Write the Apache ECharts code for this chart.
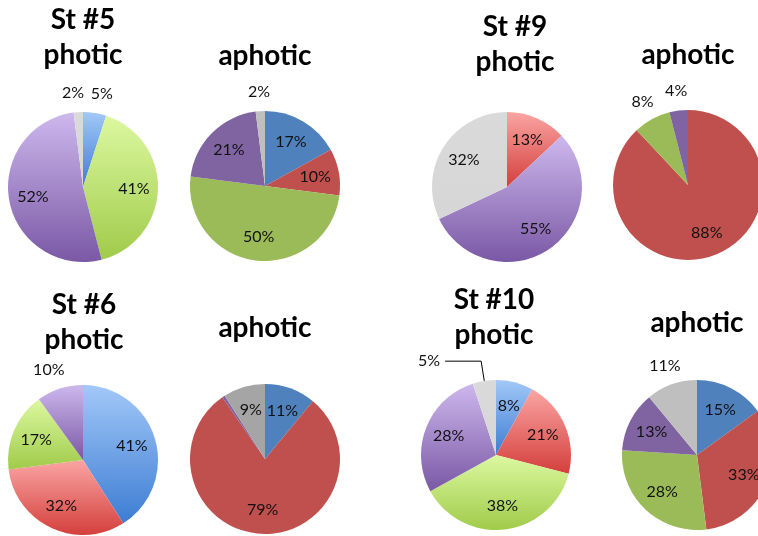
<!DOCTYPE html>
<html>
<head>
<meta charset="utf-8">
<script src="https://cdn.jsdelivr.net/npm/echarts@6/dist/echarts.min.js"></script>
<style>
  html, body { margin: 0; padding: 0; background: #fff; }
  #chart { width: 758px; height: 536px; }
</style>
</head>
<body>
<div id="chart"></div>
<script>
// Community groups, in clockwise order from 12 o'clock
const categories = ['Group 1', 'Group 2', 'Group 3', 'Group 4', 'Group 5'];

// Relative abundance (%) per station and layer
const st5Photic   = [5, 0, 41, 52, 2];
const st5Aphotic  = [17, 10, 50, 21, 2];
const st9Photic   = [0, 13, 0, 55, 32];
const st9Aphotic  = [0, 88, 8, 4, 0];
const st6Photic   = [41, 32, 17, 10, 0];
const st6Aphotic  = [11, 79, 0, 0.6, 9];
const st10Photic  = [8, 21, 38, 28, 5];
const st10Aphotic = [15, 33, 28, 13, 11];

// Panel headings
const titleTexts = ['St #5\nphotic', 'aphotic', 'St #9\nphotic', 'aphotic',
                    'St #6\nphotic', 'aphotic', 'St #10\nphotic', 'aphotic'];

// Flat fills for the aphotic pies, gradient fills for the photic pies
const flatColors = ['#4f81bd', '#c0504d', '#9bbb59', '#8064a2', '#bfbfbf'];
const gradColors = [
  ['#a2c8f8', '#3d7dd2'],
  ['#faa5a3', '#d43f3c'],
  ['#dcf8a0', '#a0cb4a'],
  ['#cdb8ed', '#7a58a5'],
  ['#dadada', '#d6d6d6']
];

const R = 75;
const panels = [
  { values: st5Photic,   center: [83, 187],  titleX: 83,  titleTop: 2,   photic: true, outside: [0, 4],
    labelPadding: { 0: [0, 0, 0, 8], 4: [0, 8, 0, 0] } },
  { values: st5Aphotic,  center: [265, 186], titleX: 265, titleTop: 38,  outside: [4] },
  { values: st9Photic,   center: [507, 187], titleX: 515, titleTop: 9,   photic: true },
  { values: st9Aphotic,  center: [688, 185], titleX: 688, titleTop: 37,  outside: [2, 3] },
  { values: st6Photic,   center: [83, 460],  titleX: 84,  titleTop: 287, photic: true, outside: [3],
    labelPadding: { 3: [0, 10, 0, 0] } },
  { values: st6Aphotic,  center: [265, 459], titleX: 265, titleTop: 310, hidden: [3], greyFill: '#a5a5a5' },
  { values: st10Photic,  center: [496, 455], titleX: 494, titleTop: 282, photic: true, leader: [4] },
  { values: st10Aphotic, center: [697, 455], titleX: 697, titleTop: 305, outside: [4] }
];

const labelFont = { fontFamily: 'Lato', fontSize: 16, color: '#111' };

function fillFor(panel, i) {
  if (panel.photic) {
    const g = gradColors[i];
    return new echarts.graphic.LinearGradient(0, 0, 0, 1, [
      { offset: 0, color: g[0] }, { offset: 1, color: g[1] }
    ]);
  }
  if (i === 4 && panel.greyFill) return panel.greyFill;
  return flatColors[i];
}

const series = [];
panels.forEach(function (p) {
  const outside = p.outside || [], hidden = p.hidden || [], leader = p.leader || [];
  const pads = p.labelPadding || {};
  const idx = [];
  p.values.forEach(function (v, i) { if (v > 0) idx.push(i); });

  const base = {
    type: 'pie', center: p.center, startAngle: 90, clockwise: true,
    avoidLabelOverlap: false, silent: true, animation: false,
    labelLayout: { hideOverlap: false },
    emphasis: { disabled: true }
  };

  // Visible slices
  series.push(Object.assign({}, base, {
    radius: R,
    label: Object.assign({ show: false, position: 'outside', formatter: '{c}%' }, labelFont),
    labelLine: { show: false, length: 20, length2: 36, lineStyle: { color: '#000', width: 1 } },
    data: idx.map(function (i) {
      const item = { name: categories[i], value: p.values[i], itemStyle: { color: fillFor(p, i) } };
      if (leader.indexOf(i) >= 0) {
        item.label = { show: true };
        item.labelLine = { show: true };
      }
      return item;
    })
  }));

  // Value labels inside the slices
  series.push(Object.assign({}, base, {
    radius: R * 1.28, z: 3,
    itemStyle: { color: 'rgba(0,0,0,0)' },
    label: Object.assign({ position: 'inside', formatter: '{c}%' }, labelFont),
    labelLine: { show: false },
    data: idx.map(function (i) {
      const show = outside.indexOf(i) < 0 && hidden.indexOf(i) < 0 && leader.indexOf(i) < 0;
      return { name: categories[i], value: p.values[i], label: { show: show } };
    })
  }));

  // Value labels just beyond the rim for thin slices
  series.push(Object.assign({}, base, {
    radius: R * 2.44, z: 3,
    itemStyle: { color: 'rgba(0,0,0,0)' },
    label: Object.assign({ position: 'inside', formatter: '{c}%' }, labelFont),
    labelLine: { show: false },
    data: idx.map(function (i) {
      const lab = { show: outside.indexOf(i) >= 0 };
      if (pads[i]) lab.padding = pads[i];
      return { name: categories[i], value: p.values[i], label: lab };
    })
  }));
});

const titles = panels.map(function (p, k) {
  return {
    text: titleTexts[k], left: p.titleX, top: p.titleTop, textAlign: 'center', padding: 0,
    textStyle: { fontFamily: 'Lato', fontWeight: 'bold', fontSize: 28, lineHeight: 35, color: '#000' }
  };
});

const chart = echarts.init(document.getElementById('chart'), null, { renderer: 'canvas' });
chart.setOption({
  backgroundColor: '#fff',
  animation: false,
  title: titles,
  series: series
});
</script>
</body>
</html>
